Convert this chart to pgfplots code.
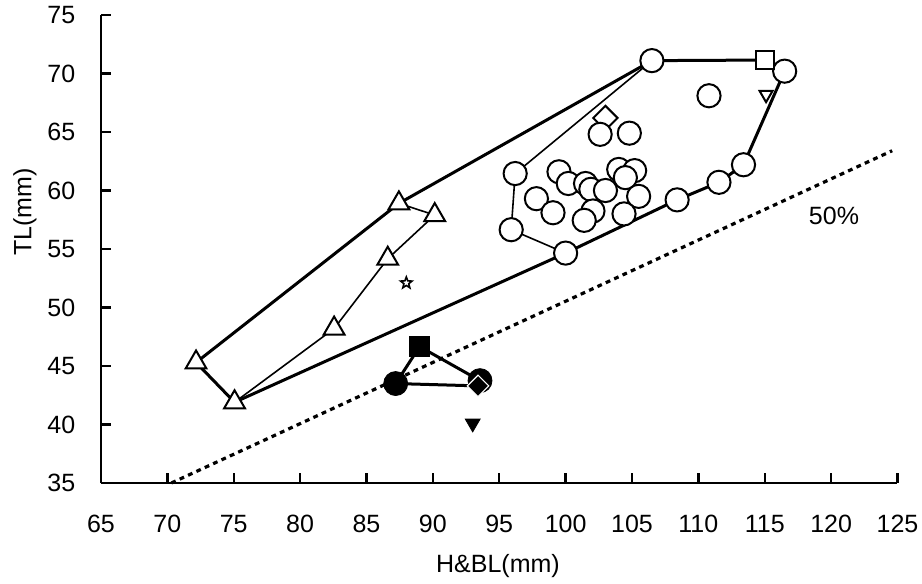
\documentclass[border=0pt]{standalone}
\usepackage{fontspec}
\setmainfont{Liberation Sans}
\usepackage{pgfplots}
\pgfplotsset{compat=1.18}
\usetikzlibrary{plotmarks}

% five-pointed star outline
\pgfdeclareplotmark{pstar}{%
  \pgfpathmoveto{\pgfqpointpolar{90}{\pgfplotmarksize}}%
  \pgfpathlineto{\pgfqpointpolar{126}{0.42\pgfplotmarksize}}%
  \pgfpathlineto{\pgfqpointpolar{162}{\pgfplotmarksize}}%
  \pgfpathlineto{\pgfqpointpolar{198}{0.42\pgfplotmarksize}}%
  \pgfpathlineto{\pgfqpointpolar{234}{\pgfplotmarksize}}%
  \pgfpathlineto{\pgfqpointpolar{270}{0.42\pgfplotmarksize}}%
  \pgfpathlineto{\pgfqpointpolar{306}{\pgfplotmarksize}}%
  \pgfpathlineto{\pgfqpointpolar{342}{0.42\pgfplotmarksize}}%
  \pgfpathlineto{\pgfqpointpolar{18}{\pgfplotmarksize}}%
  \pgfpathlineto{\pgfqpointpolar{54}{0.42\pgfplotmarksize}}%
  \pgfpathclose
  \pgfusepathqfillstroke}

\begin{document}
\fontsize{12.5}{15}\selectfont
\begin{tikzpicture}
\path[use as bounding box] (0,0) rectangle (461pt,292pt);
\begin{axis}[
    at={(50.5pt,50.5pt)}, anchor=south west,
    scale only axis, width=398.25pt, height=234pt,
    xmin=65, xmax=125, ymin=35, ymax=75,
    xtick distance=5, ytick distance=5,
    axis lines*=left,
    axis line style={line width=1.3pt},
    tick align=inside,
    major tick length=5pt,
    tick style={line width=1.2pt, black},
    clip=false,
    /pgf/number format/assume math mode=true,
    ticklabel style={font=\fontsize{12.5}{15}\selectfont},
    xticklabel style={anchor=center, yshift=-20.5pt},
    yticklabel style={anchor=east, xshift=-8.5pt},
]
% 50% line
\addplot[black, line width=1.6pt, dash pattern=on 2.4pt off 2.2pt] coordinates {(70.3,35) (124.6,63.4)};
% outer hull
\addplot[black, line width=1.5pt] coordinates {
  (72.16,45.3) (87.44,58.9) (106.5,71.1) (115.0,71.15) (116.5,70.2)
  (113.4,62.2) (111.55,60.7) (108.4,59.2) (100.0,54.65) (75.06,41.9) (72.16,45.3)};
% inner hulls
\addplot[black, line width=0.8pt] coordinates {
  (106.5,71.1) (96.2,61.45) (95.9,56.65) (100.0,54.65)};
\addplot[black, line width=0.8pt] coordinates {
  (75.06,41.9) (82.56,48.2) (86.6,54.17) (90.14,57.9) (87.44,58.9)};
% black group
\addplot[black, line width=1.5pt] coordinates {
  (93.4,43.3) (87.2,43.5) (89.0,46.66) (93.55,43.75)};

% open diamond
\addplot[only marks, mark=square*, mark size=4.3pt,
  mark options={rotate=45, fill=white, draw=black, line width=1pt}] coordinates {(103.0,66.2)};
% open circles
\addplot[only marks, mark=*, mark size=5.8pt,
  mark options={fill=white, draw=black, line width=1pt}] coordinates {
  (106.5,71.1) (116.5,70.2) (110.8,68.1) (102.6,64.8) (104.8,64.9)
  (96.2,61.45) (99.5,61.6) (100.2,60.6) (101.5,60.6) (101.9,60.1)
  (104.0,61.8) (105.2,61.7) (104.5,61.1) (103.0,60.0) (105.5,59.5)
  (97.8,59.3) (99.05,58.1) (102.06,58.25) (101.4,57.45) (104.4,58.0)
  (95.9,56.65) (100.0,54.65) (108.4,59.2) (111.55,60.7) (113.4,62.2)};
% open square
\addplot[only marks, mark=square*, mark size=4.5pt,
  mark options={fill=white, draw=black, line width=1pt}] coordinates {(115.0,71.15)};
% open inverted triangle
\addplot[only marks, mark=triangle*, mark size=3.8pt,
  mark options={rotate=180, fill=white, draw=black, line width=1pt}] coordinates {(115.1,68.2)};
% open triangles
\addplot[only marks, mark=triangle*, mark size=6pt,
  mark options={fill=white, draw=black, line width=1pt}] coordinates {
  (72.16,45.3) (75.06,41.9) (82.56,48.2) (86.6,54.17) (87.44,58.9) (90.14,57.9)};
% star
\addplot[only marks, mark=pstar, mark size=3pt,
  mark options={fill=white, draw=black, line width=0.8pt}] coordinates {(88.0,52.1)};
% black markers
\addplot[only marks, mark=*, mark size=6pt,
  mark options={fill=black, draw=black}] coordinates {(87.2,43.5) (93.55,43.75)};
\addplot[only marks, mark=square*, mark size=5pt,
  mark options={fill=black, draw=black}] coordinates {(89.0,46.66)};
\addplot[only marks, mark=square*, mark size=3.8pt,
  mark options={rotate=45, fill=black, draw=white, line width=0.6pt}] coordinates {(93.4,43.3)};
\addplot[only marks, mark=triangle*, mark size=4.3pt,
  mark options={rotate=180, fill=black, draw=black}] coordinates {(93.0,40.1)};
\end{axis}
\node[rotate=90] at (12.5pt,186pt) {TL(mm)};
\node at (249pt,9pt) {H\&BL(mm)};
\node at (417pt,184pt) {50\%};
\end{tikzpicture}
\end{document}
